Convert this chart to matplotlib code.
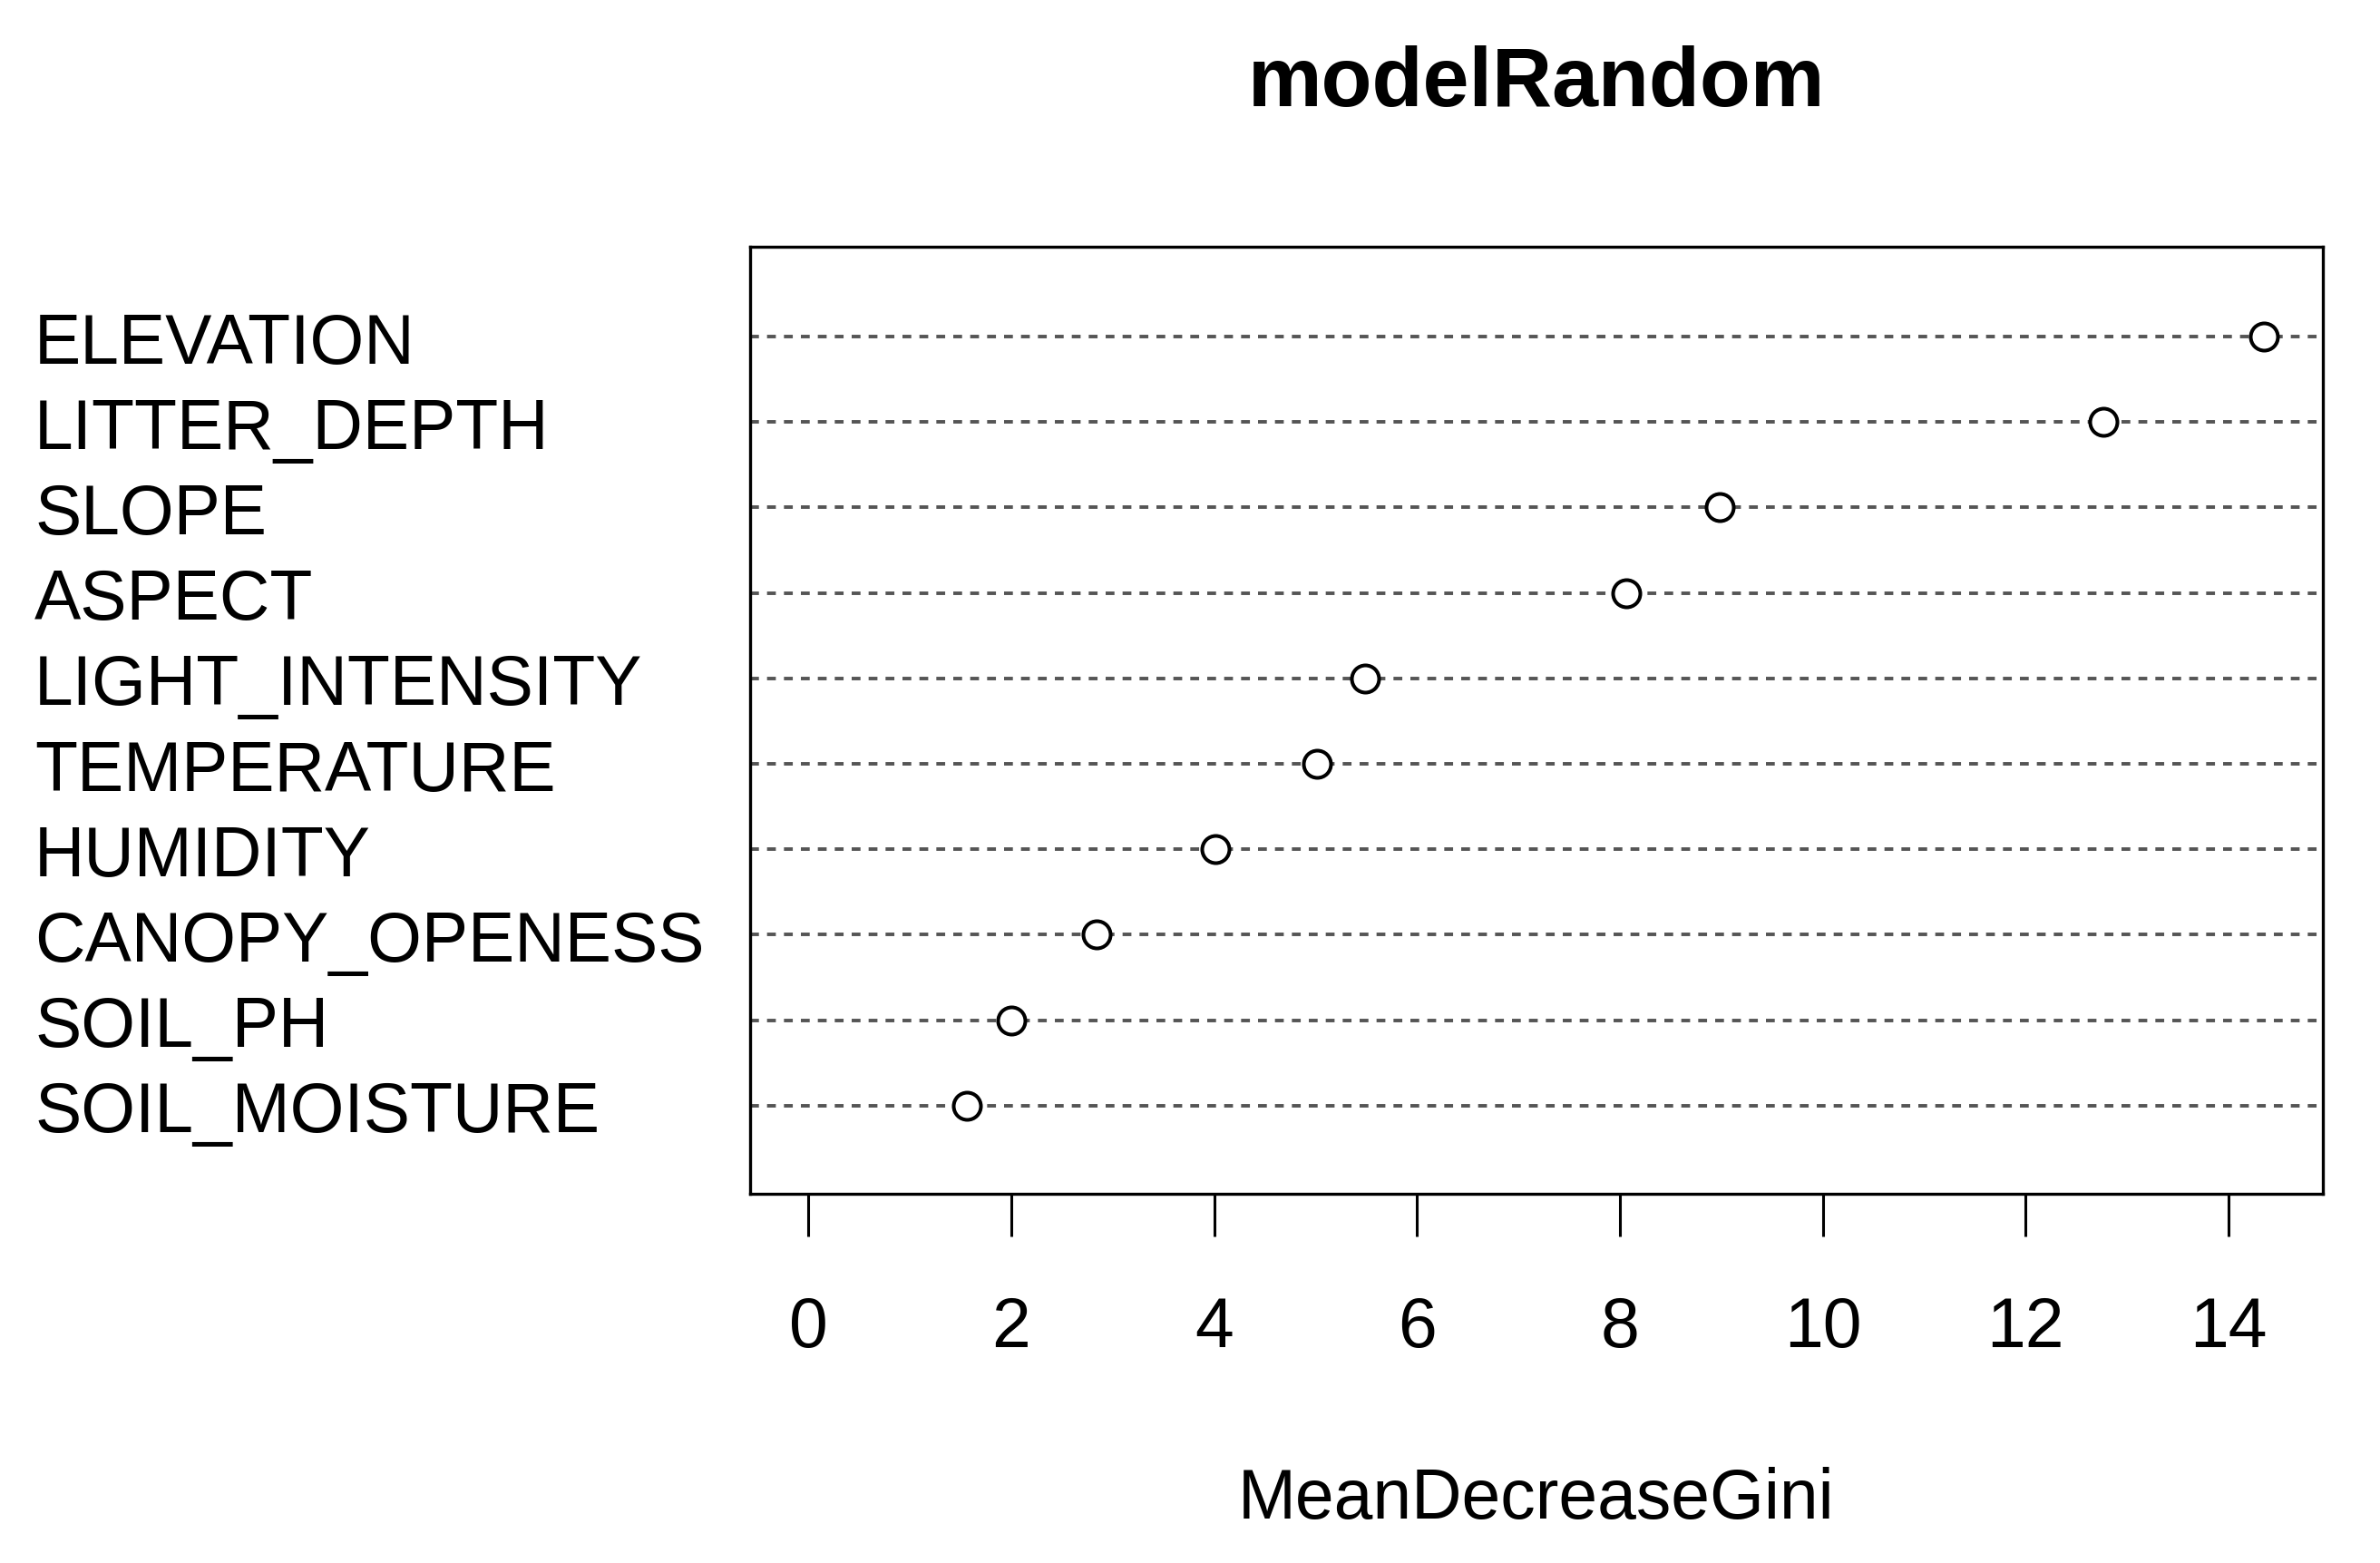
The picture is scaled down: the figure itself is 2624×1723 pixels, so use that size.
import matplotlib
matplotlib.use("Agg")
import matplotlib.pyplot as plt

variables = ["ELEVATION", "LITTER_DEPTH", "SLOPE", "ASPECT", "LIGHT_INTENSITY",
             "TEMPERATURE", "HUMIDITY", "CANOPY_OPENESS", "SOIL_PH", "SOIL_MOISTURE"]
gini = [14.35, 12.77, 8.98, 8.06, 5.49, 5.01, 4.01, 2.84, 2.00, 1.56]
xticks = [0, 2, 4, 6, 8, 10, 12, 14]

plt.rcParams['font.family'] = ['Liberation Sans', 'DejaVu Sans']

fig = plt.figure(figsize=(13.12, 8.62), dpi=200)
ax = fig.add_axes([0.3152, 0.2361, 0.976 - 0.3152, 0.8416 - 0.2361])

n = len(variables)
ypos = [n - i for i in range(n)]  # top row first, like dotchart

# dashed guide lines then open circles
for y in ypos:
    ax.axhline(y, color='#555555', lw=1.4, linestyle=(0, (2.5, 2.3)), zorder=1)
ax.plot(gini, ypos, 'o', markersize=10.8, markerfacecolor='white',
        markeredgecolor='black', markeredgewidth=1.45, linestyle='none', zorder=3)

ax.set_xlim(-0.574, 14.93)
ax.set_ylim(-0.03, 11.05)

ax.set_xticks(xticks)
ax.set_xticklabels([str(t) for t in xticks])
ax.tick_params(axis='x', length=17, width=1.1, pad=23, labelsize=27.7)

ax.set_yticks(ypos)
ax.set_yticklabels(variables)
for lbl in ax.get_yticklabels():
    lbl.set_horizontalalignment('left')
ax.tick_params(axis='y', length=0, pad=284, labelsize=27.7)

for s in ax.spines.values():
    s.set_linewidth(1.2)

fig.text(0.6456, 0.932, "modelRandom", ha='center', va='baseline',
         fontsize=33, fontweight='bold')
fig.text(0.6456, 0.029, "MeanDecreaseGini", ha='center', va='baseline',
         fontsize=27.7)

fig.savefig("out.png", dpi=200, facecolor='white')
